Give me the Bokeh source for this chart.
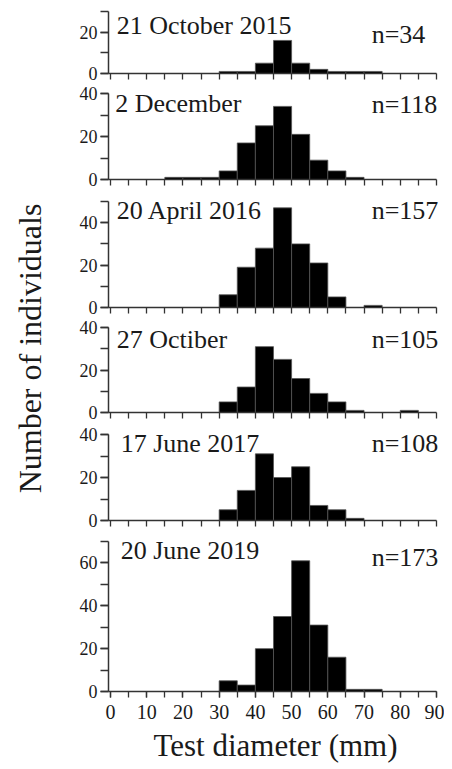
from math import pi
from bokeh.plotting import figure
from bokeh.models import Range1d, FixedTicker, Label, ColumnDataSource
from bokeh.layouts import row, column
from bokeh.embed import file_html
from bokeh.resources import INLINE

# ---------------- data ----------------
bin_starts = [15, 20, 25, 30, 35, 40, 45, 50, 55, 60, 65, 70, 75, 80]
bin_width = 5
dates = ["21 October 2015", "2 December", "20 April 2016",
         "27 Octiber", "17 June 2017", "20 June 2019"]
n_labels = ["n=34", "n=118", "n=157", "n=105", "n=108", "n=173"]
counts_oct2015 = [0, 0, 0, 1, 1, 5, 16, 5, 2, 1, 1, 1, 0, 0]
counts_dec2015 = [1, 1, 1, 4, 17, 25, 34, 21, 9, 4, 1, 0, 0, 0]
counts_apr2016 = [0, 0, 0, 6, 19, 28, 47, 30, 21, 5, 0, 1, 0, 0]
counts_oct2016 = [0, 0, 0, 5, 12, 31, 25, 16, 9, 5, 1, 0, 0, 1]
counts_jun2017 = [0, 0, 0, 5, 14, 31, 20, 25, 7, 5, 1, 0, 0, 0]
counts_jun2019 = [0, 0, 0, 5, 3, 20, 35, 61, 31, 16, 1, 1, 0, 0]
all_counts = [counts_oct2015, counts_dec2015, counts_apr2016,
              counts_oct2016, counts_jun2017, counts_jun2019]
y_max = [30, 40, 50, 40, 40, 70]
y_tick_labels = [[0, 20], [0, 20, 40], [0, 20, 40], [0, 20, 40], [0, 20, 40], [0, 20, 40, 60]]
x_tick_labels = [0, 10, 20, 30, 40, 50, 60, 70, 80, 90]
x_label = "Test diameter (mm)"
y_label = "Number of individuals"

# ---------------- layout / style ----------------
FONT = "Liberation Serif"
INK = "#1a1a1a"
X_START, X_END, X_FRAME_END = -0.55, 90, 91.66
# (figure height, border top, border bottom)
panel_dims = [(83, 11, 10), (106, 10, 10), (128, 12, 10), (106, 10, 11), (109, 11, 12), (235, 9, 76)]
# title (x, y) and n-label (x, y) in data units
title_pos = [(1.7, 19.2), (1.3, 31.8), (1.7, 42.0), (1.7, 30.7), (2.8, 32.2), (2.8, 62.2)]
n_pos = [(72.1, 15.1), (72.1, 31.0), (72.1, 42.0), (72.1, 30.7), (72.1, 32.2), (72.1, 58.7)]
LABEL_RAISE = 8  # px

panels = []
for i in range(6):
    h, bt, bb = panel_dims[i]
    p = figure(width=386, height=h, x_range=Range1d(X_START, X_FRAME_END),
               y_range=Range1d(0, y_max[i]),
               output_backend="svg", toolbar_location=None,
               min_border_left=50, min_border_right=2, min_border_top=bt, min_border_bottom=bb)
    p.grid.visible = False
    p.outline_line_color = None

    lefts = [b for b, c in zip(bin_starts, all_counts[i]) if c > 0]
    tops = [c for c in all_counts[i] if c > 0]
    src = ColumnDataSource(dict(left=lefts, right=[l + bin_width for l in lefts], top=tops))
    p.quad(left="left", right="right", bottom=0, top="top", source=src,
           fill_color="black", line_color="#555555", line_width=0.8)

    yax = p.yaxis[0]
    yax.ticker = FixedTicker(ticks=y_tick_labels[i], minor_ticks=list(range(0, y_max[i] + 1, 10)))
    xax = p.xaxis[0]
    xax.bounds = (X_START, X_END)
    if i < 5:
        xax.ticker = FixedTicker(ticks=[], minor_ticks=list(range(0, 91, 5)))
        xax.major_label_standoff = 0
    else:
        xax.ticker = FixedTicker(ticks=x_tick_labels, minor_ticks=list(range(0, 91, 5)))
        xax.major_label_standoff = 7
        xax.axis_label = x_label
        xax.axis_label_text_font = FONT
        xax.axis_label_text_font_size = "31px"
        xax.axis_label_text_font_style = "normal"
        xax.axis_label_text_color = INK
        xax.axis_label_standoff = 6
    for ax in (xax, yax):
        ax.axis_line_color = "#333333"
        ax.axis_line_width = 1.5
        ax.major_tick_line_color = "#333333"
        ax.minor_tick_line_color = "#333333"
        ax.major_tick_line_width = 1.3
        ax.minor_tick_line_width = 1.3
        ax.major_tick_in = 0
        ax.minor_tick_in = 0
        ax.major_label_text_font = FONT
        ax.major_label_text_color = INK
    xax.major_label_text_font_size = "20px"
    yax.major_label_text_font_size = "18px"
    yax.major_tick_out = 8
    yax.minor_tick_out = 8
    yax.major_label_standoff = 3
    xax.major_tick_out = 6
    xax.minor_tick_out = 6

    tx, ty = title_pos[i]
    p.add_layout(Label(x=tx, y=ty, y_offset=LABEL_RAISE, text=dates[i], text_font=FONT,
                       text_font_size="26px", text_color=INK, text_align="left",
                       text_baseline="alphabetic"))
    nx, ny = n_pos[i]
    p.add_layout(Label(x=nx, y=ny, y_offset=LABEL_RAISE, text=n_labels[i], text_font=FONT,
                       text_font_size="26px", text_color=INK, text_align="left",
                       text_baseline="alphabetic"))
    panels.append(p)

total_h = sum(d[0] for d in panel_dims)
ylab = figure(width=58, height=total_h, x_range=Range1d(0, 58), y_range=Range1d(0, total_h),
              output_backend="svg", toolbar_location=None, min_border=0,
              x_axis_location=None, y_axis_location=None)
ylab.grid.visible = False
ylab.outline_line_color = None
ylab.add_layout(Label(x=29, y=total_h - 348, text=y_label, angle=pi / 2, text_font=FONT,
                      text_font_size="32px", text_color=INK, text_align="center",
                      text_baseline="middle"))

layout = row(ylab, column(*panels))
open("out.html", "w").write(file_html(layout, INLINE))
